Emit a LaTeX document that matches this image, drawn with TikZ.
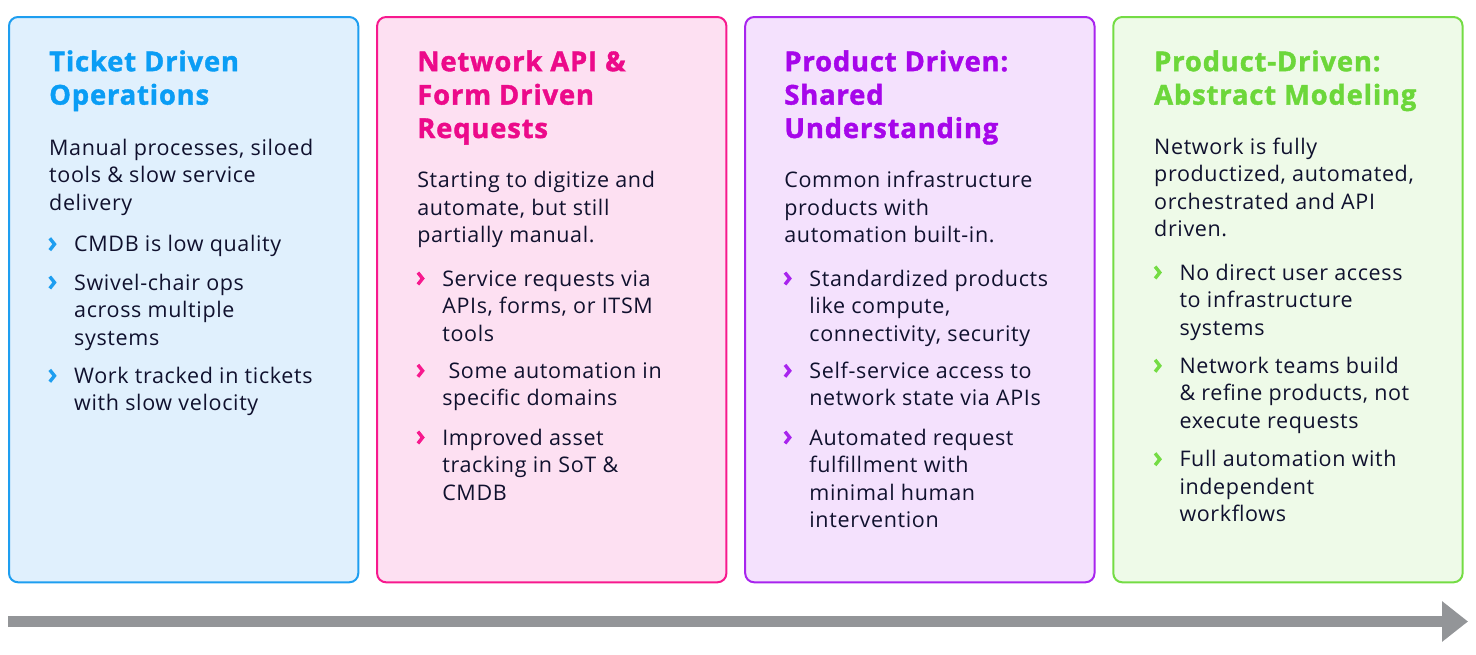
\documentclass[tikz,border=0pt]{standalone}
\usepackage{fontspec}
\setmainfont{Open Sans}[LetterSpace=3]
\newfontfamily\headfont{Open Sans}[LetterSpace=3, BoldFeatures={FakeBold=1.4}]
\usetikzlibrary{arrows.meta}
\definecolor{txt}{HTML}{10112E}
\definecolor{bA}{HTML}{1E9EF0}\definecolor{fA}{HTML}{E0F0FD}\definecolor{hA}{HTML}{0A9DF5}
\definecolor{bB}{HTML}{F7198E}\definecolor{fB}{HTML}{FDE0F2}\definecolor{hB}{HTML}{EC0A8A}
\definecolor{bC}{HTML}{A824EE}\definecolor{fC}{HTML}{F4E1FD}\definecolor{hC}{HTML}{A606EA}
\definecolor{bD}{HTML}{74DC44}\definecolor{fD}{HTML}{EEFAE8}\definecolor{hD}{HTML}{6CD73A}
\definecolor{arr}{HTML}{939598}
\tikzset{
  card/.style={draw=#1, line width=2pt, rounded corners=9pt, anchor=north west, inner sep=0pt, outer sep=0pt,
    minimum width=349.3pt, minimum height=565.3pt},
  headtxt/.style={anchor=north west, inner sep=0pt, align=left, text=#1,
    font=\headfont\fontsize{27.4}{33.4}\selectfont\bfseries},
  bodytxt/.style={anchor=north west, inner sep=0pt, align=left, text=txt,
    font=\fontsize{21.5}{27.4}\selectfont},
  chev/.style={line width=3.4pt, line join=miter, line cap=butt},
}
\newcommand\hs{\rule{0pt}{25pt}}
\newcommand\bs{\rule{0pt}{20pt}}
\newcommand\chevmark[3]{\draw[chev,#3] (#1+1.8,#2-13.4) -- (#1+6.5,#2-7.5) -- (#1+1.8,#2-1.6);}
\begin{document}
\begin{tikzpicture}[x=1pt,y=-1pt]
\useasboundingbox (0,0) rectangle (1476,654);
% cards
\node[card=bA, fill=fA] (c1) at (9,17) {};
\node[card=bB, fill=fB] (c2) at (377.1,17) {};
\node[card=bC, fill=fC] (c3) at (745.2,17) {};
\node[card=bD, fill=fD] (c4) at (1113.3,17) {};
% ---- card 1
\node[headtxt=hA] (h1) at (49,46) {\hs Ticket Driven\\Operations};
\node[bodytxt] (d1) at (49,135) {\bs Manual processes, siloed\\tools \& slow service\\delivery};
\chevmark{48}{251.7}{bA}
\node[bodytxt] (p11) at (74,231.7) {\bs CMDB is low quality};
\chevmark{48}{290}{bA}
\node[bodytxt] (p12) at (74,270) {\bs Swivel-chair ops\\across multiple\\systems};
\chevmark{48}{383.3}{bA}
\node[bodytxt] (p13) at (74,363.3) {\bs Work tracked in tickets\\with slow velocity};
% ---- card 2
\node[headtxt=hB] (h2) at (417.1,46) {\hs Network API \&\\Form Driven\\Requests};
\node[bodytxt] (d2) at (417.1,167.7) {\bs Starting to digitize and\\automate, but still\\partially manual.};
\chevmark{416.1}{286}{bB}
\node[bodytxt] (p21) at (442.1,266) {\bs Service requests via\\APIs, forms, or ITSM\\tools};
\chevmark{416.1}{378.3}{bB}
\node[bodytxt] (p22) at (442.1,358.3) {\bs\ Some automation in\\specific domains};
\chevmark{416.1}{445}{bB}
\node[bodytxt] (p23) at (442.1,425) {\bs Improved asset\\tracking in SoT \&\\CMDB};
% ---- card 3
\node[headtxt=hC] (h3) at (784.2,46) {\hs Product Driven:\\Shared\\Understanding};
\node[bodytxt] (d3) at (784.2,167.7) {\bs Common infrastructure\\products with\\automation built-in.};
\chevmark{783.2}{286}{bC}
\node[bodytxt] (p31) at (809.2,266) {\bs Standardized products\\like compute,\\connectivity, security};
\chevmark{783.2}{378.3}{bC}
\node[bodytxt] (p32) at (809.2,358.3) {\bs Self-service access to\\network state via APIs};
\chevmark{783.2}{445}{bC}
\node[bodytxt] (p33) at (809.2,425) {\bs Automated request\\fulfillment with\\minimal human\\intervention};
% ---- card 4
\node[headtxt=hD] (h4) at (1154,46) {\hs Product-Driven:\\Abstract Modeling};
\node[bodytxt] (d4) at (1154,134.3) {\bs Network is fully\\productized, automated,\\orchestrated and API\\driven.};
\chevmark{1153.3}{280}{bD}
\node[bodytxt] (p41) at (1179.3,260) {\bs No direct user access\\to infrastructure\\systems};
\chevmark{1153.3}{373.3}{bD}
\node[bodytxt] (p42) at (1179.3,353.3) {\bs Network teams build\\\& refine products, not\\execute requests};
\chevmark{1153.3}{466.7}{bD}
\node[bodytxt] (p43) at (1179.3,446.7) {\bs Full automation with\\independent\\workflows};
% ---- timeline arrow
\coordinate (t0) at (8,621.5);
\coordinate (t1) at (1468,621.5);
\draw[arr, line width=11pt, -{Triangle[length=26pt,width=39pt]}] (t0) -- (t1);
\end{tikzpicture}
\end{document}
